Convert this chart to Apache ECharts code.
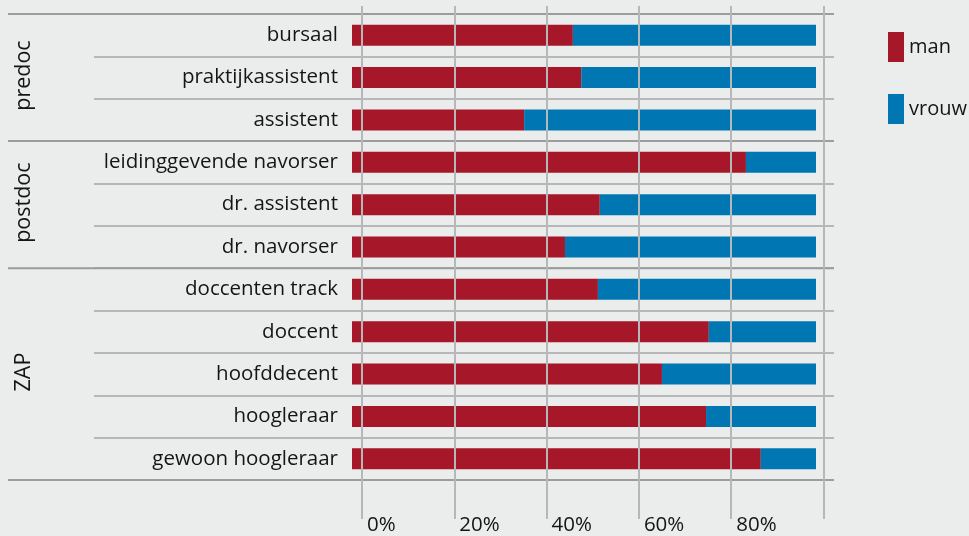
<!DOCTYPE html>
<html>
<head>
<meta charset="utf-8">
<script src="https://cdn.jsdelivr.net/npm/echarts@6/dist/echarts.min.js"></script>
<style>
html,body{margin:0;padding:0;background:#ebecec;}
#chart{width:969px;height:536px;}
</style>
</head>
<body>
<div id="chart"></div>
<script>
var categories = ['bursaal','praktijkassistent','assistent','leidinggevende navorser','dr. assistent','dr. navorser','doccenten track','doccent','hoofddecent','hoogleraar','gewoon hoogleraar'];
var man = [47.6, 49.4, 37.1, 84.9, 53.4, 45.9, 53.0, 76.9, 66.8, 76.3, 88.1];
var vrouw = [52.4, 50.6, 62.9, 15.1, 46.6, 54.1, 47.0, 23.1, 33.2, 23.7, 11.9];
var groups = ['predoc','postdoc','ZAP'];
var groupStart = [0, 3, 6];
var groupEnd = [3, 6, 11];
var tickValues = [0, 20, 40, 60, 80, 100];

var FONT = 'Open Sans';
var FS = 20.5;
var TXT = '#151515';
var RED = '#a6172a';
var BLUE = '#0077b3';

var groupData = groups.map(function(g, i){ return [groupStart[i], groupEnd[i], g, i === groups.length - 1 ? 1 : 0]; });

var chart = echarts.init(document.getElementById('chart'));
chart.setOption({
  backgroundColor: '#ebecec',
  animation: false,
  textStyle: {fontFamily: FONT},
  legend: {
    data: ['man','vrouw'],
    orient: 'vertical',
    left: 888, top: 32,
    padding: 0,
    itemWidth: 16, itemHeight: 30, itemGap: 32, itemTextGap: 6,
    icon: 'rect',
    textStyle: {fontFamily: FONT, fontSize: 20, color: TXT}
  },
  grid: [
    {left: 352, right: 153, top: 14, bottom: 56},
    {left: 94, right: 135, top: 14, bottom: 56},
    {left: 8, right: 135, top: 14, bottom: 56},
    {left: 362, right: 145.5, top: 6, bottom: 10}
  ],
  xAxis: [
    {gridIndex: 0, type: 'value', min: 0, max: 100, show: false},
    {gridIndex: 1, type: 'value', min: 0, max: 1, show: false},
    {gridIndex: 2, type: 'value', min: 0, max: 1, show: false},
    {gridIndex: 3, type: 'value', min: 0, max: 100, interval: 20, z: 5,
      axisLine: {show: false}, axisTick: {show: false},
      splitLine: {show: true, lineStyle: {color: '#b5b7b8', width: 2}},
      axisLabel: {show: true, showMaxLabel: false, formatter: '{value}%', align: 'left', margin: -4,
        padding: [0,0,0,5], fontFamily: FONT, fontSize: FS, color: TXT, verticalAlign: 'top'}
    }
  ],
  yAxis: [
    {gridIndex: 0, type: 'category', data: categories, inverse: true,
      axisLine: {show: false}, axisTick: {show: false}, splitLine: {show: false},
      axisLabel: {margin: 14, fontFamily: FONT, fontSize: FS, color: TXT}},
    {gridIndex: 1, type: 'category', data: categories, inverse: true,
      axisLine: {show: false}, axisTick: {show: false}, axisLabel: {show: false},
      splitLine: {show: true, lineStyle: {color: '#b5b7b8', width: 2}}},
    {gridIndex: 2, type: 'value', min: 0, max: 11, inverse: true, show: false},
    {gridIndex: 3, type: 'value', min: 0, max: 1, show: false}
  ],
  series: [
    {name: 'man', type: 'bar', stack: 'total', xAxisIndex: 0, yAxisIndex: 0, data: man,
      barWidth: 21, itemStyle: {color: RED}, z: 2},
    {name: 'vrouw', type: 'bar', stack: 'total', xAxisIndex: 0, yAxisIndex: 0, data: vrouw,
      barWidth: 21, itemStyle: {color: BLUE}, z: 2},
    {name: 'groups', type: 'custom', xAxisIndex: 2, yAxisIndex: 2, data: groupData, z: 4,
      renderItem: function(params, api){
        var s = api.value(0), e = api.value(1), isLast = api.value(3);
        var p0 = api.coord([0, s]);
        var p1 = api.coord([1, s]);
        var q0 = api.coord([0, e]);
        var q1 = api.coord([1, e]);
        var children = [
          {type: 'line', shape: {x1: p0[0], y1: p0[1], x2: p1[0], y2: p1[1]},
            style: {stroke: '#9a9c9d', lineWidth: 2}}
        ];
        if (isLast) {
          children.push({type: 'line', shape: {x1: q0[0], y1: q0[1], x2: q1[0], y2: q1[1]},
            style: {stroke: '#9a9c9d', lineWidth: 2}});
        }
        children.push({type: 'text', x: p0[0] + 16, y: (p0[1] + q0[1]) / 2 - 2, rotation: Math.PI / 2,
          style: {text: groups[params.dataIndex], fill: TXT, font: '21.5px ' + FONT,
            align: 'center', verticalAlign: 'middle'}});
        return {type: 'group', children: children};
      }
    }
  ]
});
</script>
</body>
</html>
